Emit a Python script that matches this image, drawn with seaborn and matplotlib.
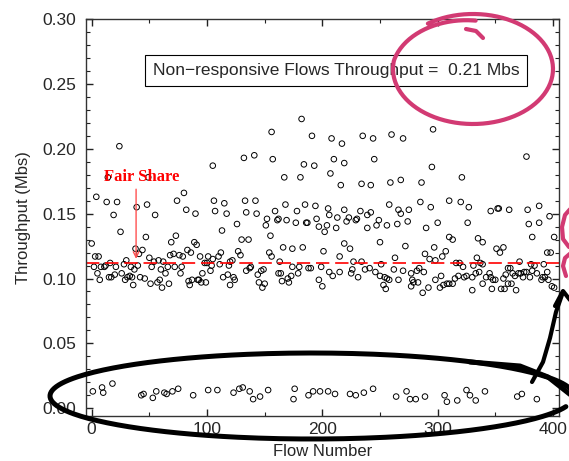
import numpy as np
import pandas as pd
import seaborn as sns
import matplotlib.pyplot as plt
from matplotlib.lines import Line2D
from matplotlib.ticker import MultipleLocator, FormatStrFormatter

# Responsive flows
resp_flow = [24, 14, 49, 4, 13, 22, 19, 39, 48, 55, 25, 47, 74, 80, 82, 90, 0, 73, 69, 83,
             89, 91, 38, 44, 41, 50, 68, 71, 76, 79, 86, 94, 101, 3, 6, 2, 5, 7, 8, 11,
             12, 16, 21, 15, 17, 20, 26, 28, 30, 29, 31, 33, 35, 34, 37, 36, 40, 42, 46, 51,
             52, 54, 58, 60, 62, 59, 57, 61, 64, 66, 67, 72, 77, 78, 84, 85, 87, 92, 93, 95,
             99, 96, 98, 100, 103,
             182, 156, 191, 132, 141, 157, 105, 184, 193, 167, 181, 207, 106, 115, 133, 142, 107, 117, 134, 143,
             159, 168, 178, 185, 194, 205, 152, 151, 161, 162, 169, 177, 186, 187, 195, 197, 204, 206, 126, 113,
             155, 202, 130, 136, 166, 174, 183, 154, 156, 127, 129, 112, 110, 105, 104, 111, 120, 122, 119, 163,
             201, 114, 118, 120, 123, 124, 134, 137, 138, 144, 145, 147, 149, 148, 150, 162, 164, 165, 170, 171,
             173, 174, 179, 180, 188, 190, 197, 199, 200, 206,
             296, 208, 217, 235, 244, 260, 270, 210, 219, 245, 295, 216, 234, 242, 259, 268, 286, 310, 285, 294,
             258, 266, 268, 275, 219, 213, 223, 229, 230, 233, 239, 242, 249, 247, 256, 265, 274, 290, 300, 212,
             221, 239, 250, 219, 224, 272, 289, 297, 304, 307, 263, 293, 298, 215, 227, 234, 251, 209, 215, 226,
             225, 231, 237, 241, 246, 250, 253, 255, 254, 256, 258, 262, 266, 270, 277, 278, 279, 277, 283, 282,
             284, 288, 287, 292, 298, 303, 302, 305, 308, 310,
             377, 321, 320, 327, 346, 352, 353, 362, 378, 388, 397, 326, 379, 388, 310, 313, 335, 339, 351, 354,
             357, 382, 401, 334, 337, 316, 319, 322, 339, 371, 381, 384, 392, 395, 398, 331, 361, 363, 313, 315,
             318, 323, 325, 330, 330, 333, 336, 339, 342, 345, 346, 348, 350, 347, 355, 358, 357, 359, 361, 364,
             365, 367, 368, 370, 372, 374, 375, 377, 380, 382, 386, 390, 391, 393, 395, 396, 399, 401]
resp_tput = [0.202, 0.178, 0.178, 0.163, 0.159, 0.159, 0.149, 0.155, 0.157, 0.149, 0.136, 0.132, 0.160, 0.166, 0.153, 0.150, 0.127, 0.133, 0.128, 0.122,
             0.128, 0.126, 0.123, 0.122, 0.119, 0.116, 0.118, 0.119, 0.118, 0.117, 0.120, 0.117, 0.117, 0.117, 0.117, 0.109, 0.104, 0.099, 0.109, 0.109,
             0.110, 0.112, 0.109, 0.101, 0.101, 0.103, 0.104, 0.111, 0.114, 0.099, 0.101, 0.102, 0.101, 0.109, 0.107, 0.095, 0.110, 0.101, 0.100, 0.096,
             0.109, 0.113, 0.114, 0.107, 0.113, 0.099, 0.097, 0.093, 0.104, 0.109, 0.096, 0.109, 0.104, 0.109, 0.098, 0.095, 0.099, 0.099, 0.099, 0.097,
             0.097, 0.104, 0.112, 0.112, 0.106,
             0.223, 0.213, 0.210, 0.193, 0.195, 0.192, 0.187, 0.188, 0.187, 0.178, 0.178, 0.181, 0.160, 0.158, 0.160, 0.160, 0.152, 0.150, 0.151, 0.150,
             0.152, 0.157, 0.152, 0.157, 0.156, 0.154, 0.146, 0.141, 0.145, 0.146, 0.145, 0.143, 0.143, 0.143, 0.146, 0.140, 0.141, 0.149, 0.142, 0.137,
             0.133, 0.136, 0.130, 0.130, 0.124, 0.123, 0.124, 0.120, 0.117, 0.121, 0.118, 0.120, 0.117, 0.115, 0.110, 0.111, 0.113, 0.114, 0.110, 0.113,
             0.121, 0.101, 0.103, 0.095, 0.101, 0.099, 0.106, 0.108, 0.109, 0.103, 0.097, 0.106, 0.107, 0.093, 0.096, 0.104, 0.104, 0.098, 0.100, 0.097,
             0.102, 0.109, 0.104, 0.109, 0.108, 0.108, 0.099, 0.109, 0.094, 0.105,
             0.215, 0.208, 0.204, 0.210, 0.208, 0.211, 0.208, 0.192, 0.189, 0.192, 0.186, 0.172, 0.173, 0.172, 0.174, 0.176, 0.174, 0.160, 0.159, 0.155,
             0.157, 0.153, 0.150, 0.153, 0.153, 0.147, 0.147, 0.145, 0.146, 0.152, 0.149, 0.151, 0.145, 0.141, 0.141, 0.142, 0.144, 0.139, 0.143, 0.139,
             0.144, 0.139, 0.128, 0.127, 0.123, 0.125, 0.119, 0.124, 0.117, 0.121, 0.116, 0.115, 0.114, 0.117, 0.113, 0.113, 0.111, 0.102, 0.105, 0.107,
             0.104, 0.101, 0.107, 0.108, 0.105, 0.102, 0.095, 0.092, 0.101, 0.100, 0.099, 0.107, 0.099, 0.106, 0.104, 0.099, 0.097, 0.094, 0.097, 0.106,
             0.108, 0.105, 0.089, 0.093, 0.099, 0.102, 0.093, 0.095, 0.096, 0.096,
             0.194, 0.178, 0.159, 0.155, 0.152, 0.154, 0.154, 0.153, 0.153, 0.156, 0.148, 0.143, 0.142, 0.143, 0.132, 0.130, 0.131, 0.128, 0.123, 0.120,
             0.124, 0.132, 0.132, 0.116, 0.112, 0.112, 0.112, 0.109, 0.111, 0.113, 0.111, 0.110, 0.111, 0.120, 0.120, 0.110, 0.108, 0.108, 0.096, 0.100,
             0.102, 0.101, 0.102, 0.101, 0.091, 0.104, 0.105, 0.096, 0.101, 0.104, 0.101, 0.099, 0.099, 0.092, 0.092, 0.092, 0.100, 0.103, 0.096, 0.096,
             0.104, 0.102, 0.091, 0.104, 0.104, 0.101, 0.105, 0.105, 0.101, 0.106, 0.104, 0.099, 0.101, 0.101, 0.105, 0.099, 0.094, 0.093]

# Non-responsive flows
nonresp_flow = [1, 9, 10, 18, 43, 45, 53, 56, 63, 65, 70, 75, 88, 101,
                109, 123, 128, 131, 137, 140, 146, 153, 176, 175, 188, 192, 198, 205,
                211, 224, 229, 236, 244, 264, 273, 276, 281, 289, 306, 308,
                317, 325, 328, 333, 341, 369, 373, 386]
nonresp_tput = [0.013, 0.016, 0.012, 0.019, 0.010, 0.011, 0.008, 0.013, 0.012, 0.011, 0.013, 0.015, 0.010, 0.014,
                0.014, 0.012, 0.015, 0.016, 0.013, 0.007, 0.009, 0.014, 0.015, 0.007, 0.010, 0.013, 0.013, 0.013,
                0.011, 0.011, 0.010, 0.012, 0.015, 0.009, 0.013, 0.007, 0.007, 0.009, 0.010, 0.005,
                0.006, 0.014, 0.010, 0.006, 0.013, 0.009, 0.011, 0.007]

fair_share = 0.112
nonresp_label = 'Non\u2212responsive Flows Throughput =  0.21 Mbs'

df = pd.DataFrame({'flow': resp_flow + nonresp_flow,
                   'tput': resp_tput + nonresp_tput})

sns.set_style('ticks')
plt.rcParams['font.family'] = ['Liberation Sans', 'DejaVu Sans']

W, H = 569, 461
fig = plt.figure(figsize=(W / 100, H / 100), dpi=100)
ax = fig.add_axes([0.151, 0.0976, 0.831, 0.861])

sns.scatterplot(data=df, x='flow', y='tput', ax=ax, marker='o', s=16,
                facecolor='none', edgecolor='black', linewidth=0.7, legend=False)

ax.axhline(fair_share, color='red', lw=1.2, dashes=(8, 3.5), zorder=1)

ax.set_xlim(-5, 405)
ax.set_ylim(-0.006, 0.30)
ax.xaxis.set_major_locator(MultipleLocator(100))
ax.xaxis.set_minor_locator(MultipleLocator(50))
ax.yaxis.set_major_locator(MultipleLocator(0.05))
ax.yaxis.set_minor_locator(MultipleLocator(0.01))
ax.yaxis.set_major_formatter(FormatStrFormatter('%.2f'))
ax.tick_params(which='both', direction='in', top=True, right=True, labelsize=12.5, color='#222222')
ax.tick_params(which='major', length=5, width=1)
ax.tick_params(which='minor', length=3, width=0.8)
ax.tick_params(axis='y', pad=7)
ax.tick_params(axis='x', pad=4)
for sp in ax.spines.values():
    sp.set_linewidth(1.0)
    sp.set_color('#333333')

ax.set_xlabel('Flow Number', fontsize=12, labelpad=5)
ax.set_ylabel('Throughput (Mbs)', fontsize=12, labelpad=8)

# text box
ax.text(212, 0.2605, nonresp_label, ha='center', va='center', fontsize=12.5,
        bbox=dict(boxstyle='square,pad=0.45', fc='white', ec='black', lw=0.8))

# fair share label and arrow
ax.text(43, 0.178, 'Fair Share', color='red', fontsize=12, fontweight='bold',
        family=['Liberation Serif', 'DejaVu Serif'], ha='center', va='center')
ax.annotate('', xy=(38.5, fair_share + 0.001), xytext=(38.5, 0.171),
            arrowprops=dict(arrowstyle='->', color='#ff5050', lw=1.0))


# hand-drawn marks, given in pixel coordinates of the picture
def stroke(xs, ys, color, lw):
    xs = np.asarray(xs, dtype=float) / W
    ys = 1 - np.asarray(ys, dtype=float) / H
    fig.add_artist(Line2D(xs, ys, transform=fig.transFigure, color=color, lw=lw,
                          solid_capstyle='round', solid_joinstyle='round', clip_on=False))


pink = '#d23a73'
t = np.linspace(-2.17, 4.75, 200)
shrink = np.where(t > 3.3, 1 - 0.12 * (t - 3.3) / 1.45, 1.0)
stroke(473 + 80 * np.cos(t) * shrink, 69 + 55 * np.sin(t) * shrink, pink, 3.0)
stroke([466, 476, 483], [29, 31, 38], pink, 3.0)
stroke([572, 565, 562, 563, 569], [207, 215, 227, 239, 247], pink, 3.0)
stroke([572, 565, 563, 566], [252, 258, 266, 276], pink, 3.0)

t = np.linspace(0.25, 2 * np.pi + 0.05, 300)
stroke(312 + 262 * np.cos(t), 396 + 43 * np.sin(t), 'black', 3.6)
stroke([470, 520, 548, 572], [362, 366, 377, 396], 'black', 3.6)
stroke([532, 543, 550, 556, 563], [382, 362, 338, 312, 292], 'black', 3.0)
stroke([555, 563, 570], [306, 291, 300], 'black', 3.0)

fig.savefig('out.png', dpi=100)
